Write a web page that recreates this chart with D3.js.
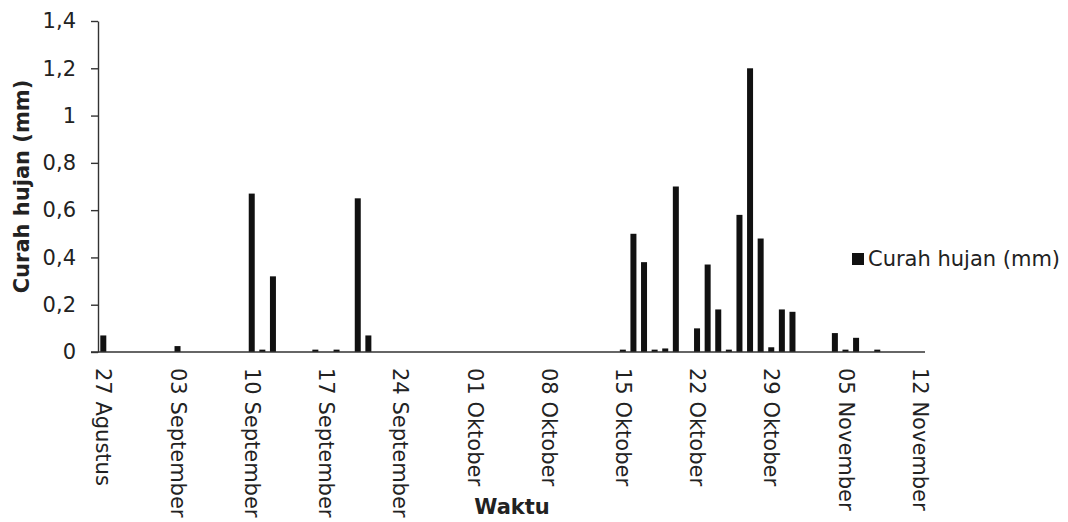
<!DOCTYPE html>
<html lang="en">
<head>
    <meta charset="UTF-8">
    <title>Curah hujan</title>
    <script src="https://d3js.org/d3.v7.min.js"></script>
    <style>
        body { margin: 0; background: #fff; }
        text { font-family: "DejaVu Sans", Verdana, sans-serif; fill: #222; }
    </style>
</head>
<body>
    <div id="chart"></div>
    <script>
        // day offsets from 27 Agustus and rainfall (mm)
        var rainDays   = [0, 7, 14, 15, 16, 20, 22, 24, 25,
                          49, 50, 51, 52, 53, 54, 56, 57, 58, 59, 60, 61, 62, 63, 64, 65,
                          69, 70, 71, 73];
        var rainValues = [0.07, 0.025, 0.67, 0.01, 0.32, 0.01, 0.01, 0.65, 0.07,
                          0.01, 0.5, 0.38, 0.01, 0.015, 0.7, 0.1, 0.37, 0.18, 0.01, 0.58, 1.2, 0.48, 0.02, 0.18, 0.17,
                          0.08, 0.01, 0.06, 0.01];
        var tickDays   = [0, 7, 14, 21, 28, 35, 42, 49, 56, 63, 70, 77];
        var tickLabels = ["27 Agustus", "03 September", "10 September", "17 September", "24 September",
                          "01 Oktober", "08 Oktober", "15 Oktober", "22 Oktober", "29 Oktober",
                          "05 November", "12 November"];
        var yTicks = [0, 0.2, 0.4, 0.6, 0.8, 1, 1.2, 1.4];

        var W = 1068, H = 522;
        var svg = d3.select("#chart").append("svg")
            .attr("width", W).attr("height", H);

        // each day is one slot, axis runs half a day past first and last date
        var x = d3.scaleLinear().domain([-0.5, 77.5]).range([98, 925]);
        var y = d3.scaleLinear().domain([0, 1.4]).range([352, 21]);
        var bw = 6;

        // y axis
        var yAxis = svg.append("g")
            .attr("transform", "translate(" + x(-0.5) + ",0)")
            .call(d3.axisLeft(y).tickValues(yTicks).tickSize(7).tickSizeOuter(0)
                .tickFormat(function(d) { return d3.format("")(d).replace(".", ","); }));
        yAxis.select(".domain").attr("stroke", "#333").attr("stroke-width", 1.4);
        yAxis.selectAll(".tick line").attr("stroke", "#333").attr("stroke-width", 1.4);
        yAxis.selectAll(".tick text").attr("x", -22).style("font-size", "21px").attr("fill", "#222");

        // bars
        svg.append("g").selectAll("rect")
            .data(rainDays)
            .enter().append("rect")
            .attr("x", function(d) { return x(d) - bw / 2; })
            .attr("y", function(d, i) { return y(rainValues[i]); })
            .attr("width", bw)
            .attr("height", function(d, i) { return y(0) - y(rainValues[i]); })
            .attr("fill", "#111");

        // x axis
        var xAxis = svg.append("g")
            .attr("transform", "translate(0," + y(0) + ")")
            .call(d3.axisBottom(x).tickValues(tickDays).tickSize(0)
                .tickFormat(function(d, i) { return tickLabels[i]; }));
        xAxis.select(".domain").attr("d", "M" + (x(-0.5) - 7) + ",0H" + x(77.5))
            .attr("stroke", "#333").attr("stroke-width", 1.5);
        xAxis.selectAll(".tick text")
            .attr("transform", "rotate(90)")
            .attr("x", 16).attr("y", 0).attr("dy", "0.35em")
            .attr("text-anchor", "start")
            .style("font-size", "21px").attr("fill", "#222");

        // axis titles
        svg.append("text")
            .attr("transform", "translate(29," + y(0.7) + ") rotate(-90)")
            .attr("text-anchor", "middle")
            .style("font-size", "21px").style("font-weight", "bold")
            .text("Curah hujan (mm)");
        svg.append("text")
            .attr("x", 512).attr("y", 514)
            .attr("text-anchor", "middle")
            .style("font-size", "21px").style("font-weight", "bold")
            .text("Waktu");

        // legend
        svg.append("rect").attr("x", 852).attr("y", 253).attr("width", 12).attr("height", 12).attr("fill", "#111");
        svg.append("text").attr("x", 868).attr("y", 259).attr("dy", "0.35em")
            .style("font-size", "21px").text("Curah hujan (mm)");
    </script>
</body>
</html>
